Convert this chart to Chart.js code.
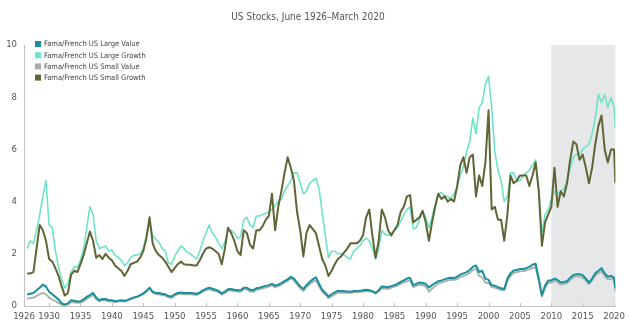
<!DOCTYPE html>
<html><head><meta charset="utf-8">
<script src="https://cdn.jsdelivr.net/npm/chart.js@4.4.1/dist/chart.umd.min.js"></script>
<style>html,body{margin:0;padding:0;background:#fff;}#wrap{width:630px;height:332px;}</style>
</head><body><div id="wrap"><canvas id="c" width="630" height="332"></canvas></div>
<script>
const chartTitle = 'US Stocks, June 1926\u2013March 2020';
const seriesNames = ['Fama/French US Large Value','Fama/French US Large Growth','Fama/French US Small Value','Fama/French US Small Growth'];
const xTickLabels = [1926,1930,1935,1940,1945,1950,1955,1960,1965,1970,1975,1980,1985,1990,1995,2000,2005,2010,2015,2020];
const yTickLabels = [0,2,4,6,8,10];
const shadeStart = 2010;

const dates = [
1926.5,1927,1927.5,1928,1928.5,1929,1929.5,
1930,1930.5,1931,1931.5,1932,1932.5,1933,1933.5,1934,1934.5,1935,1935.5,1936,1936.5,1937,1937.5,1938,1938.5,1939,1939.5,
1940,1940.5,1941,1941.5,1942,1942.5,1943,1943.5,1944,1944.5,1945,1945.5,1946,1946.5,1947,1947.5,1948,1948.5,1949,1949.5,
1950,1950.5,1951,1951.5,1952,1952.5,1953,1953.5,1954,1954.5,1955,1955.5,1956,1956.5,1957,1957.5,1958,1958.5,1959,1959.5,
1960,1960.5,1961,1961.5,1962,1962.5,1963,1963.5,1964,1964.5,1965,1965.5,1966,1966.5,1967,1967.5,1968,1968.5,1969,1969.5,
1970,1970.5,1971,1971.5,1972,1972.5,1973,1973.5,1974,1974.5,1975,1975.5,1976,1976.5,1977,1977.5,1978,1978.5,1979,1979.5,
1980,1980.5,1981,1981.5,1982,1982.5,1983,1983.5,1984,1984.5,1985,1985.5,1986,1986.5,1987,1987.5,1988,1988.5,1989,1989.5,
1990,1990.5,1991,1991.5,1992,1992.5,1993,1993.5,1994,1994.5,1995,1995.5,1996,1996.5,1997,1997.5,1998,1998.5,1999,1999.5,
2000,2000.5,2001,2001.5,2002,2002.5,2003,2003.5,2004,2004.5,2005,2005.5,2006,2006.5,2007,2007.5,2008,2008.5,2009,2009.5,
2010,2010.5,2011,2011.5,2012,2012.5,2013,2013.5,2014,2014.5,2015,2015.5,2016,2016.5,2017,2017.5,2018,2018.5,2019,2019.5,
2020,2020.2];

const largeValue = [
0.44,0.47,0.5,0.6,0.7,0.82,0.75,
0.55,0.45,0.35,0.25,0.1,0.06,0.1,0.22,0.2,0.17,0.18,0.25,0.35,0.42,0.5,0.32,0.22,0.27,0.27,0.22,
0.22,0.18,0.2,0.22,0.2,0.23,0.28,0.33,0.36,0.42,0.48,0.58,0.7,0.55,0.5,0.5,0.47,0.45,0.38,0.36,
0.45,0.5,0.52,0.5,0.5,0.5,0.49,0.46,0.52,0.6,0.66,0.7,0.66,0.62,0.58,0.48,0.55,0.64,0.65,0.62,
0.6,0.6,0.7,0.7,0.62,0.6,0.68,0.7,0.74,0.77,0.8,0.85,0.78,0.82,0.88,0.95,1.02,1.12,1.05,0.9,
0.75,0.65,0.8,0.92,1.02,1.1,0.85,0.62,0.5,0.36,0.45,0.52,0.58,0.57,0.57,0.56,0.55,0.57,0.57,0.58,
0.6,0.62,0.6,0.57,0.5,0.6,0.75,0.74,0.72,0.76,0.8,0.85,0.92,0.98,1.05,1.08,0.8,0.85,0.9,0.88,
0.85,0.7,0.8,0.88,0.95,0.98,1.02,1.06,1.08,1.07,1.12,1.2,1.25,1.3,1.38,1.5,1.55,1.3,1.35,1.05,
1.0,0.8,0.78,0.72,0.68,0.65,1.05,1.25,1.36,1.38,1.42,1.42,1.45,1.5,1.58,1.62,1.05,0.42,0.78,0.98,
0.98,1.05,1.0,0.9,0.92,0.95,1.08,1.18,1.22,1.22,1.18,1.05,0.9,1.05,1.25,1.35,1.45,1.25,1.12,1.15,
1.08,0.68];

const largeGrowth = [
2.2,2.5,2.4,2.9,3.5,4.2,4.8,
3.1,3.0,2.1,1.5,1.0,0.7,0.85,1.3,1.5,1.5,1.75,2.2,3.0,3.8,3.5,2.5,2.2,2.25,2.3,2.1,
2.15,1.95,1.85,1.75,1.55,1.65,1.85,1.95,1.95,2.0,2.2,2.7,3.2,2.7,2.55,2.45,2.2,2.1,1.65,1.6,
1.9,2.1,2.3,2.2,2.05,2.0,1.9,1.8,2.1,2.5,2.8,3.1,2.8,2.65,2.4,2.2,2.45,2.9,2.9,2.8,
2.6,2.65,3.3,3.4,3.1,3.0,3.45,3.45,3.5,3.55,3.6,3.7,3.85,4.0,4.1,4.4,4.6,4.8,5.1,5.1,
4.7,4.3,4.4,4.7,4.8,4.9,4.5,3.6,2.7,1.85,2.1,2.1,2.0,2.0,1.95,1.85,1.8,2.1,2.2,2.3,
2.5,2.6,2.5,2.2,1.8,2.2,2.9,2.75,2.7,2.8,2.9,3.0,3.25,3.5,3.7,3.8,2.95,3.0,3.3,3.6,
3.4,3.0,3.4,3.9,4.3,4.35,4.2,4.2,4.1,4.3,4.55,5.0,5.35,5.9,6.3,7.2,6.6,7.6,7.8,8.5,
8.8,7.6,5.9,5.2,4.8,4.0,4.2,5.1,5.1,4.8,4.8,5.0,5.1,5.2,5.4,5.6,4.5,2.8,3.5,3.7,
4.1,4.4,4.3,4.4,4.5,4.8,5.3,5.7,5.8,5.8,6.0,6.1,6.2,6.6,7.2,8.1,7.8,8.1,7.6,8.0,
7.6,6.8];

const smallValue = [
0.28,0.3,0.32,0.38,0.45,0.5,0.45,
0.32,0.25,0.18,0.12,0.05,0.03,0.05,0.15,0.14,0.12,0.14,0.18,0.28,0.35,0.42,0.27,0.18,0.22,0.22,0.18,
0.18,0.15,0.17,0.19,0.17,0.21,0.26,0.31,0.34,0.4,0.45,0.55,0.67,0.5,0.45,0.45,0.42,0.4,0.33,0.31,
0.4,0.45,0.47,0.45,0.45,0.45,0.44,0.42,0.47,0.55,0.6,0.64,0.6,0.57,0.53,0.43,0.5,0.59,0.6,0.57,
0.55,0.54,0.64,0.64,0.56,0.54,0.62,0.64,0.68,0.7,0.74,0.79,0.71,0.76,0.82,0.9,0.96,1.06,0.98,0.83,
0.68,0.57,0.72,0.83,0.92,0.98,0.75,0.55,0.44,0.3,0.37,0.44,0.5,0.5,0.5,0.5,0.5,0.52,0.52,0.53,
0.55,0.57,0.56,0.54,0.47,0.56,0.68,0.67,0.66,0.7,0.74,0.78,0.85,0.9,0.95,0.98,0.72,0.77,0.82,0.8,
0.75,0.55,0.66,0.76,0.86,0.9,0.93,0.98,1.0,1.0,1.03,1.1,1.15,1.2,1.27,1.38,1.42,1.15,1.1,0.9,
0.88,0.72,0.7,0.66,0.62,0.6,0.95,1.15,1.27,1.3,1.33,1.34,1.36,1.4,1.46,1.48,0.95,0.35,0.68,0.88,
0.9,0.96,0.92,0.82,0.85,0.88,1.0,1.1,1.14,1.13,1.08,0.97,0.84,0.98,1.16,1.25,1.34,1.14,1.02,1.05,
0.98,0.55];

const smallGrowth = [
1.25,1.25,1.3,2.2,3.1,2.9,2.5,
1.8,1.7,1.45,1.15,0.75,0.4,0.5,1.2,1.35,1.3,1.6,1.95,2.4,2.85,2.5,1.85,1.95,1.8,2.0,1.85,
1.75,1.55,1.45,1.35,1.15,1.35,1.6,1.65,1.7,1.85,2.1,2.6,3.4,2.4,2.1,1.95,1.85,1.7,1.5,1.3,
1.45,1.6,1.7,1.6,1.58,1.58,1.55,1.55,1.75,2.0,2.2,2.25,2.2,2.1,2.0,1.6,2.2,3.0,2.8,2.5,
2.1,1.95,2.9,2.8,2.35,2.2,2.9,2.9,3.05,3.3,3.45,4.3,2.9,3.8,4.4,5.1,5.7,5.3,4.8,3.6,
2.9,1.9,2.8,3.1,2.95,2.8,2.3,1.8,1.55,1.15,1.35,1.6,1.8,1.9,2.05,2.2,2.4,2.4,2.4,2.5,
2.7,3.4,3.7,2.7,1.85,2.5,3.7,3.4,2.9,2.7,2.9,3.1,3.6,3.8,4.2,4.25,3.2,3.3,3.4,3.65,
3.2,2.5,3.2,3.8,4.3,4.1,4.2,4.0,4.1,4.0,4.6,5.4,5.7,5.1,5.7,5.8,4.2,5.0,4.6,5.5,
7.5,3.7,3.8,3.3,3.3,2.5,3.5,5.0,4.7,4.8,5.0,5.0,5.0,4.6,5.0,5.5,4.4,2.3,3.2,3.5,
3.8,5.3,3.8,4.4,4.2,4.7,5.6,6.3,6.2,5.6,5.8,5.3,4.7,5.3,6.2,6.9,7.3,6.0,5.5,6.0,
6.0,4.7];

const seriesValues = [largeValue, largeGrowth, smallValue, smallGrowth];
const colors = ['#17909e', '#6fe3c8', '#a5afa8', '#5f6535'];
const widths = [2, 1.6, 1.8, 2];
const orders = [0, 2, 3, 1];
const FONT = "'Liberation Sans Narrow','Arial Narrow','DejaVu Sans Condensed','Roboto Condensed',sans-serif";
const AXIS = '#c4c4c4';

const shadePlugin = {
  id: 'shade',
  beforeDraw(chart) {
    const {ctx, chartArea: ca, scales: {x}} = chart;
    const x0 = x.getPixelForValue(shadeStart);
    ctx.save();
    ctx.fillStyle = '#e6e7e8';
    ctx.fillRect(x0, ca.top, ca.right - x0, ca.bottom - ca.top);
    ctx.restore();
  }
};
const tickPlugin = {
  id: 'innerTicks',
  afterDraw(chart) {
    const {ctx, chartArea: ca, scales: {x}} = chart;
    ctx.save();
    ctx.strokeStyle = AXIS; ctx.lineWidth = 1;
    xTickLabels.slice(1).forEach(v => {
      const px = Math.round(x.getPixelForValue(v)) + 0.5;
      ctx.beginPath(); ctx.moveTo(px, ca.bottom); ctx.lineTo(px, ca.bottom - 3); ctx.stroke();
    });
    ctx.restore();
  }
};
const legendPlugin = {
  id: 'innerLegend',
  afterDraw(chart) {
    const {ctx, chartArea: ca} = chart;
    ctx.save();
    ctx.font = '7.5px ' + FONT;
    ctx.textBaseline = 'middle';
    ctx.textAlign = 'left';
    seriesNames.forEach((n, i) => {
      const cy = ca.top - 1 + i * 11.2;
      ctx.fillStyle = colors[i];
      ctx.fillRect(ca.left + 11, cy - 3, 6, 6);
      ctx.fillStyle = '#444';
      ctx.fillText(n, ca.left + 20, cy + 0.5);
    });
    ctx.restore();
  }
};

new Chart(document.getElementById('c'), {
  type: 'line',
  data: {
    datasets: seriesNames.map((name, i) => ({
      label: name,
      data: dates.map((d, j) => ({x: d, y: seriesValues[i][j]})),
      borderColor: colors[i],
      backgroundColor: colors[i],
      borderWidth: widths[i],
      pointRadius: 0,
      tension: 0,
      fill: false,
      order: orders[i],
      borderJoinStyle: 'round'
    }))
  },
  options: {
    responsive: false,
    animation: false,
    events: [],
    layout: {padding: {left: 0, right: 14, top: 0, bottom: 0}},
    plugins: {
      legend: {display: false},
      tooltip: {enabled: false},
      title: {
        display: true, text: chartTitle, color: '#555',
        font: {family: FONT, size: 10, weight: 'normal', lineHeight: 1.2},
        padding: {top: 11, bottom: 22}
      }
    },
    scales: {
      x: {
        type: 'linear', min: 1926, max: 2020.2,
        afterBuildTicks: s => { s.ticks = xTickLabels.map(v => ({value: v})); },
        afterFit: s => { s.height = 26; },
        ticks: {callback: v => String(v), font: {family: FONT, size: 9.5}, color: '#555', padding: 5, maxRotation: 0, autoSkip: false},
        grid: {display: false, drawTicks: false},
        border: {display: true, color: AXIS, width: 1}
      },
      y: {
        min: 0, max: 10,
        afterBuildTicks: s => { s.ticks = yTickLabels.map(v => ({value: v})); },
        afterFit: s => { s.width = 24; },
        ticks: {font: {family: FONT, size: 9.5}, color: '#555', padding: 7},
        grid: {display: false, drawTicks: false},
        border: {display: true, color: AXIS, width: 1}
      }
    }
  },
  plugins: [shadePlugin, tickPlugin, legendPlugin]
});
</script></body></html>
